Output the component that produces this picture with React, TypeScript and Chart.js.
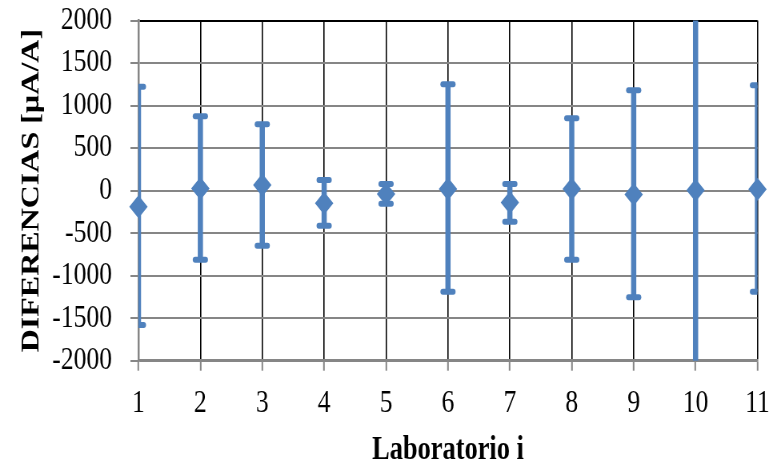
import { useEffect, useRef } from "react";
import { Chart, registerables } from "chart.js";

Chart.register(...registerables);

// Laboratory index on the x axis
const laboratorios = [1, 2, 3, 4, 5, 6, 7, 8, 9, 10, 11];
// Difference of each laboratory (µA/A)
const diferencias = [-190, 25, 65, -150, -40, 20, -140, 20, -45, 5, 15];
// Upper and lower ends of each uncertainty bar (µA/A)
const limiteSuperior = [1220, 875, 780, 125, 78, 1250, 78, 850, 1180, 2600, 1240];
const limiteInferior = [-1580, -812, -648, -413, -154, -1190, -366, -812, -1255, -2600, -1190];

// Value axis range and step
const yMin = -2000;
const yMax = 2000;
const yStep = 500;

const BLUE = "#4f81bd";
const GRAY = "#868686";
const BLACK = "#000000";

// Drawing surface is laid out wider and then condensed horizontally
const SURFACE_W = 976;
const SURFACE_H = 462;
const SQUEEZE = 781 / SURFACE_W;

const errorBars = {
  id: "errorBars",
  beforeDatasetsDraw(chart: any) {
    const { ctx, chartArea, scales } = chart;
    const x = scales.x;
    const y = scales.y;
    ctx.save();
    ctx.beginPath();
    ctx.rect(
      chartArea.left,
      chartArea.top,
      chartArea.right - chartArea.left,
      chartArea.bottom - chartArea.top
    );
    ctx.clip();
    ctx.strokeStyle = BLUE;
    laboratorios.forEach((lab, i) => {
      const px = x.getPixelForValue(lab);
      const top = y.getPixelForValue(limiteSuperior[i]);
      const bot = y.getPixelForValue(limiteInferior[i]);
      ctx.lineWidth = 6.5;
      ctx.lineCap = "butt";
      ctx.beginPath();
      ctx.moveTo(px, top);
      ctx.lineTo(px, bot);
      ctx.stroke();
      ctx.lineWidth = 6;
      ctx.lineCap = "round";
      for (const cy of [top, bot]) {
        ctx.beginPath();
        ctx.moveTo(px - 6.5, cy);
        ctx.lineTo(px + 6.5, cy);
        ctx.stroke();
      }
    });
    ctx.restore();
  },
};

export default function App() {
  const canvasRef = useRef<HTMLCanvasElement | null>(null);

  useEffect(() => {
    document.body.style.margin = "0";
    const canvas = canvasRef.current;
    if (!canvas) return;
    const chart = new Chart(canvas, {
      type: "scatter",
      data: {
        datasets: [
          {
            data: laboratorios.map((lab, i) => ({ x: lab, y: diferencias[i] })),
            pointStyle: "rectRot",
            pointRadius: 11.5,
            pointHoverRadius: 11.5,
            backgroundColor: BLUE,
            borderColor: BLUE,
            borderWidth: 0,
            showLine: false,
            clip: false as any,
          },
        ],
      },
      options: {
        responsive: true,
        maintainAspectRatio: false,
        animation: false,
        events: [],
        layout: { padding: { top: 20.5, right: 28, bottom: 0, left: 0 } },
        plugins: {
          legend: { display: false },
          tooltip: { enabled: false },
        },
        scales: {
          x: {
            type: "linear",
            min: laboratorios[0],
            max: laboratorios[laboratorios.length - 1],
            afterFit: (s: any) => {
              s.height = 101.3;
            },
            ticks: {
              stepSize: 1,
              autoSkip: false,
              color: BLACK,
              padding: 14,
              font: { family: "'Liberation Serif', 'Times New Roman', serif", size: 32 },
              callback: (v: any) => String(v),
            },
            grid: {
              color: (c: any) => (c.tick && c.tick.value === laboratorios[0] ? GRAY : BLACK),
              lineWidth: 1.6,
              tickLength: 10,
              tickColor: GRAY,
              tickWidth: 2,
            },
            border: { color: GRAY, width: 2.5 },
            title: {
              display: true,
              text: "Laboratorio i",
              color: BLACK,
              padding: { top: 0, bottom: 0 },
              font: {
                family: "'Liberation Serif', 'Times New Roman', serif",
                size: 33,
                weight: "bold",
                lineHeight: 0.72,
              },
            },
          },
          y: {
            type: "linear",
            min: yMin,
            max: yMax,
            afterFit: (s: any) => {
              s.width = 173;
              s.paddingTop = 0;
              s.paddingBottom = 0;
            },
            ticks: {
              stepSize: yStep,
              autoSkip: false,
              color: BLACK,
              padding: 23,
              font: { family: "'Liberation Serif', 'Times New Roman', serif", size: 32 },
              callback: (v: any) => String(v),
            },
            grid: {
              color: (c: any) => (c.tick && c.tick.value === yMax ? BLACK : GRAY),
              lineWidth: 2,
              tickLength: 10,
              tickColor: GRAY,
              tickWidth: 2,
            },
            border: { color: GRAY, width: 2.5 },
            title: {
              display: true,
              text: "DIFERENCIAS [µA/A]",
              color: BLACK,
              padding: { top: 21, bottom: 0 },
              font: {
                family: "'Liberation Serif', 'Times New Roman', serif",
                size: 32,
                weight: "bold",
              },
            },
          },
        },
      },
      plugins: [errorBars],
    });
    return () => chart.destroy();
  }, []);

  return (
    <div
      style={{
        position: "fixed",
        left: 0,
        top: 0,
        width: 781,
        height: SURFACE_H,
        overflow: "hidden",
        background: "#ffffff",
      }}
    >
      <div
        style={{
          position: "absolute",
          left: 0,
          top: 0,
          width: SURFACE_W,
          height: SURFACE_H,
          transform: `scaleX(${SQUEEZE})`,
          transformOrigin: "0 0",
        }}
      >
        <canvas ref={canvasRef} />
      </div>
    </div>
  );
}
